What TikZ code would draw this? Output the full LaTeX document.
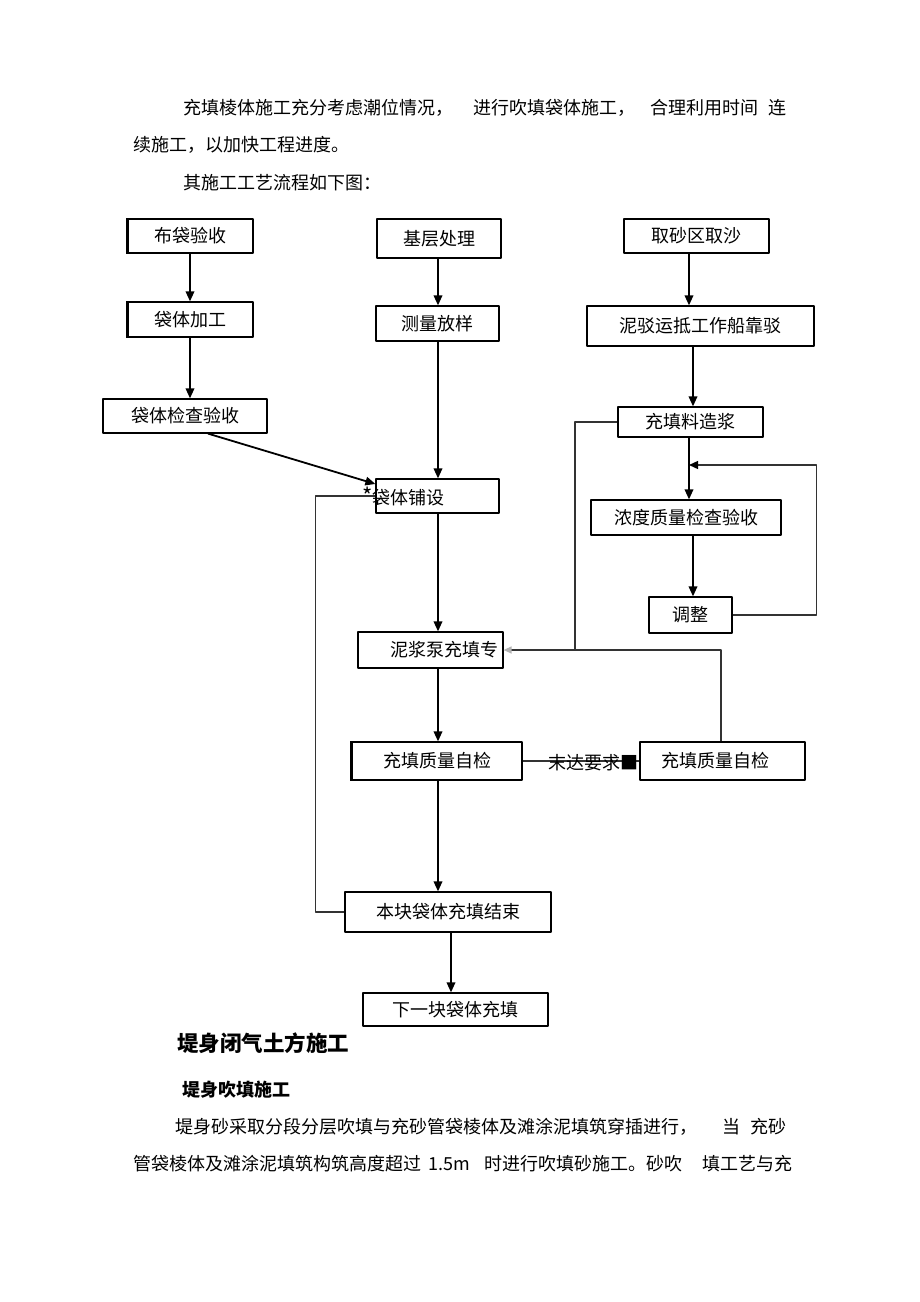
\documentclass[tikz,border=0pt]{standalone}
\usepackage{fontspec}
\setmainfont{Noto Sans CJK SC}
\usepackage{tikz}
\usetikzlibrary{arrows.meta,positioning}

\tikzset{
  stepbox/.style={draw, line width=1.2pt, inner sep=0pt},
  flow/.style={line width=1.8pt, -{Triangle[length=10pt,width=8.5pt]}},
  back/.style={draw=black!80, line width=1.4pt},
  txt/.style={anchor=west, inner sep=0pt}
}

\begin{document}
\begin{tikzpicture}[x=1pt, y=-1pt, line join=round, font=\fontsize{18pt}{22pt}\selectfont]
\useasboundingbox[fill=white] (0,0) rectangle (920,1302);

% paragraph above
\node[txt] (p1a) at (183,108) {充填棱体施工充分考虑潮位情况，};
\node[txt] (p1b) at (473,108) {进行吹填袋体施工，};
\node[txt] (p1c) at (650,108) {合理利用时间};
\node[txt] (p1d) at (768,108) {连};
\node[txt] (p2) at (133,145) {续施工，以加快工程进度。};
\node[txt] (p3) at (183,183) {其施工工艺流程如下图：};

% left column
\node[stepbox, minimum width=125pt, minimum height=34pt] (bag) at (190.5,236) {布袋验收};
\node[stepbox, minimum width=125pt, minimum height=35pt] (make) at (190.5,319.5) {袋体加工};
\node[stepbox, minimum width=164pt, minimum height=34pt] (check) at (185,416) {袋体检查验收};
\draw[line width=2.4pt] (bag.north west) -- (bag.south west);
\draw[line width=2.4pt] (make.north west) -- (make.south west);

% middle column
\node[stepbox, minimum width=124pt, minimum height=39pt] (base) at (439,238.5) {基层处理};
\node[stepbox, minimum width=123pt, minimum height=35pt] (survey) at (437.5,323.5) {测量放样};
\node[stepbox, minimum width=123pt, minimum height=34pt] (pave) at (437.5,496) {};
\node[txt] (pavetxt) at ([xshift=-13pt]pave.west) {{\fontsize{22pt}{22pt}\selectfont *}袋体铺设};
\node[stepbox, minimum width=145pt, minimum height=36pt] (pump) at (430.5,650) {};
\node[anchor=east, inner sep=0pt] (pumptxt) at ([xshift=-5pt]pump.east) {泥浆泵充填专};
\node[stepbox, minimum width=170pt, minimum height=38pt] (selfL) at (437,761) {充填质量自检};
\draw[line width=2.4pt] (selfL.north west) -- (selfL.south west);
\node[stepbox, minimum width=206pt, minimum height=40pt] (finish) at (448,912) {本块袋体充填结束};
\node[stepbox, minimum width=185pt, minimum height=33pt] (next) at (455.5,1009.5) {下一块袋体充填};

% right column
\node[stepbox, minimum width=145pt, minimum height=34pt] (sand) at (696.5,236) {取砂区取沙};
\node[stepbox, minimum width=227pt, minimum height=40pt] (barge) at (700.5,326) {泥驳运抵工作船靠驳};
\node[stepbox, minimum width=145pt, minimum height=30pt] (slurry) at (690.5,422) {充填料造浆};
\node[stepbox, minimum width=190pt, minimum height=35pt] (dens) at (686,517.5) {浓度质量检查验收};
\node[stepbox, minimum width=83pt, minimum height=36pt] (adjust) at (690.5,615) {调整};
\node[stepbox, minimum width=165pt, minimum height=38pt] (selfR) at (722.5,761) {};
\node[inner sep=0pt] (selfRtxt) at ([xshift=-7pt]selfR.center) {充填质量自检};

\coordinate (merge) at (689,465);
\coordinate (joint) at (575,650);

% main flow
\draw[flow] ([xshift=-0.5pt]bag.south) -- ([xshift=-0.5pt]bag.south |- make.north);
\draw[flow] ([xshift=-0.5pt]make.south) -- ([xshift=-0.5pt]make.south |- check.north);
\draw[flow] ([xshift=23pt]check.south) -- ([yshift=12pt]pave.west);
\draw[flow] ([xshift=-1pt]base.south) -- ([xshift=-1pt]base.south |- survey.north);
\draw[flow] ([xshift=0.5pt]survey.south) -- ([xshift=0.5pt]survey.south |- pave.north);
\draw[flow] ([xshift=0.5pt]pave.south) -- ([xshift=0.5pt]pave.south |- pump.north);
\draw[flow] ([xshift=-7.5pt]sand.south) -- ([xshift=-7.5pt]sand.south |- barge.north);
\draw[flow] ([xshift=-7.5pt]barge.south) -- ([xshift=-7.5pt]barge.south |- slurry.north);
\draw[flow] ([xshift=-1.5pt]slurry.south) -- ([xshift=-1.5pt]slurry.south |- dens.north);
\draw[flow] ([xshift=7pt]dens.south) -- ([xshift=7pt]dens.south |- adjust.north);
\draw[flow] ([xshift=7.5pt]pump.south) -- ([xshift=7.5pt]pump.south |- selfL.north);
\draw[flow] ([xshift=1pt]selfL.south) -- ([xshift=1pt]selfL.south |- finish.north);
\draw[flow] ([xshift=3pt]finish.south) -- ([xshift=3pt]finish.south |- next.north);

% return lines
\draw[back] (finish.west) -- ++(-29,0) |- (pave.west);
\draw[back, -{Triangle[length=9pt,width=8pt,color=black]}] (adjust.east) -- ++(84,0) |- (merge);
\draw[back] (slurry.west) -| (joint);
\draw[back, -{Triangle[length=8pt,width=7pt,color=black!30]}] ([xshift=-1.5pt]selfR.north) |- (pump.east);
\draw[back] (selfL.east) -- (selfR.west)
  node[pos=1, anchor=east, inner sep=0pt, yshift=-2pt] (fail) {末达要求■};

% text below
\node[txt, font=\fontsize{21.5pt}{26pt}\selectfont\bfseries] (h1) at (177,1043) {堤身闭气土方施工};
\node[txt, font=\fontsize{18pt}{22pt}\selectfont\bfseries] (h2) at (182,1090) {堤身吹填施工};
\node[txt] (q1a) at (175,1127) {堤身砂采取分段分层吹填与充砂管袋棱体及滩涂泥填筑穿插进行，};
\node[txt] (q1b) at (722,1127) {当};
\node[txt] (q1c) at (750,1127) {充砂};
\node[txt] (q2a) at (133,1164) {管袋棱体及滩涂泥填筑构筑高度超过};
\node[txt] (q2b) at (428,1164) {1.5m};
\node[txt] (q2c) at (484,1164) {时进行吹填砂施工。砂吹};
\node[txt] (q2d) at (702,1164) {填工艺与充};

\end{tikzpicture}
\end{document}
